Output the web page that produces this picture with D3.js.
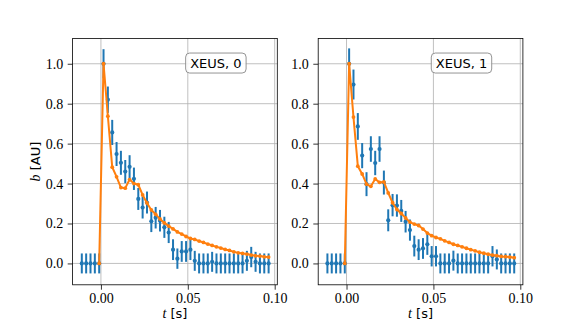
<!DOCTYPE html>
<html>
<head>
<meta charset="utf-8">
<script src="https://cdn.jsdelivr.net/npm/d3@7"></script>
<style>
  body { margin: 0; background: #fff; }
  svg { display: block; }
</style>
</head>
<body>
<div id="chart"></div>
<script>
// time axis (s)
const times = [-0.0110, -0.0085, -0.0060, -0.0035, -0.0010, 0.0015, 0.0040, 0.0065, 0.0090, 0.0115,
  0.0140, 0.0165, 0.0190, 0.0215, 0.0240, 0.0265, 0.0290, 0.0315, 0.0340, 0.0365,
  0.0390, 0.0415, 0.0440, 0.0465, 0.0490, 0.0515, 0.0540, 0.0565, 0.0590, 0.0615,
  0.0640, 0.0665, 0.0690, 0.0715, 0.0740, 0.0765, 0.0790, 0.0815, 0.0840, 0.0865,
  0.0890, 0.0915, 0.0940, 0.0965];

// panel 0 measured values and errors
const meas0 = [0, 0, 0, 0, 0, 1.00, 0.82, 0.656, 0.548, 0.504,
  0.46, 0.484, 0.424, 0.323, 0.28, 0.305, 0.211, 0.229, 0.214, 0.181,
  0.155, 0.069, 0.024, 0.06, 0.06, 0.069, 0.013, 0, 0, 0,
  0.008, 0, 0, 0, 0, 0, 0, 0, 0.013, 0.032,
  0.008, 0, 0, 0];
const err0 = [0.05, 0.05, 0.05, 0.05, 0.05, 0.073, 0.066, 0.063, 0.06, 0.06,
  0.058, 0.058, 0.056, 0.055, 0.055, 0.055, 0.054, 0.054, 0.054, 0.053,
  0.053, 0.052, 0.051, 0.052, 0.052, 0.052, 0.05, 0.05, 0.05, 0.05,
  0.05, 0.05, 0.05, 0.05, 0.05, 0.05, 0.05, 0.05, 0.05, 0.051,
  0.05, 0.05, 0.05, 0.05];
// panel 0 model (null = not drawn)
const model0 = [null, null, null, null, 0, 1.00, 0.737, 0.482, 0.434, 0.38,
  0.377, 0.42, 0.40, 0.394, 0.343, 0.303, 0.268, 0.246, 0.223, 0.203,
  0.187, 0.173, 0.158, 0.147, 0.135, 0.125, 0.12, 0.112, 0.105, 0.097,
  0.09, 0.083, 0.077, 0.07, 0.065, 0.058, 0.053, 0.05, 0.047, 0.042,
  0.038, 0.037, 0.033, 0.032];

// panel 1
const meas1 = [0, 0, 0, 0, 0, 1.00, 0.896, 0.686, 0.54, 0.397,
  0.573, 0.503, 0.573, 0.405, 0.216, 0.292, 0.29, 0.263, 0.209, 0.167,
  0.087, 0.069, 0.075, 0.096, 0.036, 0.036, 0, 0, 0, 0.014,
  0, 0, 0, 0, 0, 0, 0, 0, 0.036, 0.02,
  0, 0, 0, 0];
const err1 = [0.05, 0.05, 0.05, 0.05, 0.05, 0.077, 0.075, 0.067, 0.063, 0.06,
  0.064, 0.061, 0.064, 0.06, 0.055, 0.056, 0.056, 0.055, 0.054, 0.053,
  0.052, 0.052, 0.052, 0.053, 0.051, 0.051, 0.05, 0.05, 0.05, 0.05,
  0.05, 0.05, 0.05, 0.05, 0.05, 0.05, 0.05, 0.05, 0.051, 0.05,
  0.05, 0.05, 0.05, 0.05];
const model1 = [null, null, null, null, 0, 1.00, 0.733, 0.487, 0.448, 0.397,
  0.386, 0.423, 0.406, 0.408, 0.353, 0.304, 0.27, 0.25, 0.228, 0.207,
  0.197, 0.19, 0.172, 0.152, 0.139, 0.13, 0.123, 0.113, 0.105, 0.096,
  0.09, 0.083, 0.076, 0.069, 0.063, 0.056, 0.051, 0.046, 0.042, 0.039,
  0.035, 0.034, 0.032, 0.029];

const panelLabels = ["XEUS, 0", "XEUS, 1"];
const xTicks = [0, 0.05, 0.10];
const yTicks = [0, 0.2, 0.4, 0.6, 0.8, 1.0];

const W = 581, H = 320;
const BLUE = "#1f77b4", ORANGE = "#ff7f0e";
const TICKFONT = "'Liberation Serif', 'DejaVu Serif', serif";
const SANS = "'DejaVu Sans', sans-serif";

const svg = d3.select("#chart").append("svg")
  .attr("width", W).attr("height", H)
  .style("background", "#fff");

const axTop = 38.4, axBottom = 284.8, pw = 204.7;
const lefts = [72.6, 318.2];

function drawPanel(left, meas, err, model, label, withYLabel) {
  const h = axBottom - axTop;
  const x = d3.scaleLinear().domain([-0.0163, 0.1015]).range([0, pw]);
  const y = d3.scaleLinear().domain([-0.107, 1.127]).range([h, 0]);

  const g = svg.append("g").attr("transform", `translate(${left},${axTop})`);

  // grid
  g.append("g").selectAll("line").data(xTicks).join("line")
    .attr("x1", d => x(d)).attr("x2", d => x(d))
    .attr("y1", 0).attr("y2", h)
    .attr("stroke", "#b0b0b0").attr("stroke-width", 0.8);
  g.append("g").selectAll("line").data(yTicks).join("line")
    .attr("y1", d => y(d)).attr("y2", d => y(d))
    .attr("x1", 0).attr("x2", pw)
    .attr("stroke", "#b0b0b0").attr("stroke-width", 0.8);

  // axes
  const xAxis = g.append("g")
    .attr("transform", `translate(0,${h})`)
    .call(d3.axisBottom(x).tickValues(xTicks).tickFormat(d3.format(".2f")).tickSizeOuter(0).tickSize(4.9).tickPadding(3.5));
  const yAxis = g.append("g")
    .call(d3.axisLeft(y).tickValues(yTicks).tickFormat(d3.format(".1f")).tickSizeOuter(0).tickSize(4.9).tickPadding(4.5));
  [xAxis, yAxis].forEach(a => {
    a.select(".domain").remove();
    a.selectAll(".tick line").attr("stroke", "#000").attr("stroke-width", 0.8);
    a.selectAll(".tick text").attr("fill", "#000")
      .style("font-family", TICKFONT).style("font-size", "14px");
  });

  // error bars
  const pts = times.map((t, i) => ({ t: t, v: meas[i], e: err[i] }));
  g.append("g").selectAll("line").data(pts).join("line")
    .attr("x1", d => x(d.t)).attr("x2", d => x(d.t))
    .attr("y1", d => y(d.v - d.e)).attr("y2", d => y(d.v + d.e))
    .attr("stroke", BLUE).attr("stroke-width", 2);
  g.append("g").selectAll("circle").data(pts).join("circle")
    .attr("cx", d => x(d.t)).attr("cy", d => y(d.v))
    .attr("r", 2.1).attr("fill", BLUE);

  // model line
  const mpts = times.map((t, i) => ({ t: t, v: model[i] })).filter(d => d.v !== null);
  const line = d3.line().x(d => x(d.t)).y(d => y(d.v));
  g.append("path").datum(mpts)
    .attr("fill", "none").attr("stroke", ORANGE)
    .attr("stroke-width", 2).attr("stroke-linejoin", "round")
    .attr("d", line);
  g.append("g").selectAll("circle").data(mpts).join("circle")
    .attr("cx", d => x(d.t)).attr("cy", d => y(d.v))
    .attr("r", 1.9).attr("fill", ORANGE);

  // frame
  g.append("rect").attr("width", pw).attr("height", h)
    .attr("fill", "none").attr("stroke", "#000").attr("stroke-width", 0.8);

  // label box
  const cx = pw * 0.7, cy = h * 0.1;
  const box = g.append("rect").attr("fill", "#fff").attr("fill-opacity", 0.85)
    .attr("stroke", "#888").attr("stroke-width", 0.9).attr("rx", 4).attr("ry", 4);
  const txt = g.append("text").attr("x", cx).attr("y", cy)
    .attr("text-anchor", "middle").attr("dy", "0.36em")
    .style("font-family", SANS).style("font-size", "13px").attr("fill", "#000")
    .text(label);
  const tw = txt.node().getComputedTextLength();
  box.attr("x", cx - tw / 2 - 4.5).attr("y", cy - 10)
    .attr("width", tw + 9).attr("height", 20);

  // x label
  const xl = g.append("text").attr("x", pw / 2).attr("y", h + 33.5)
    .attr("text-anchor", "middle").attr("fill", "#000").style("font-size", "14px");
  xl.append("tspan").style("font-family", TICKFONT).style("font-style", "italic").text("t");
  xl.append("tspan").style("font-family", SANS).style("font-size", "13px").text(" [s]");

  if (withYLabel) {
    const yl = g.append("text")
      .attr("transform", `translate(-33,${h / 2}) rotate(-90)`)
      .attr("text-anchor", "middle").attr("fill", "#000").style("font-size", "14px");
    yl.append("tspan").style("font-family", TICKFONT).style("font-style", "italic").text("b");
    yl.append("tspan").style("font-family", SANS).style("font-size", "13px").text(" [AU]");
  }
}

drawPanel(lefts[0], meas0, err0, model0, panelLabels[0], true);
drawPanel(lefts[1], meas1, err1, model1, panelLabels[1], false);
</script>
</body>
</html>
